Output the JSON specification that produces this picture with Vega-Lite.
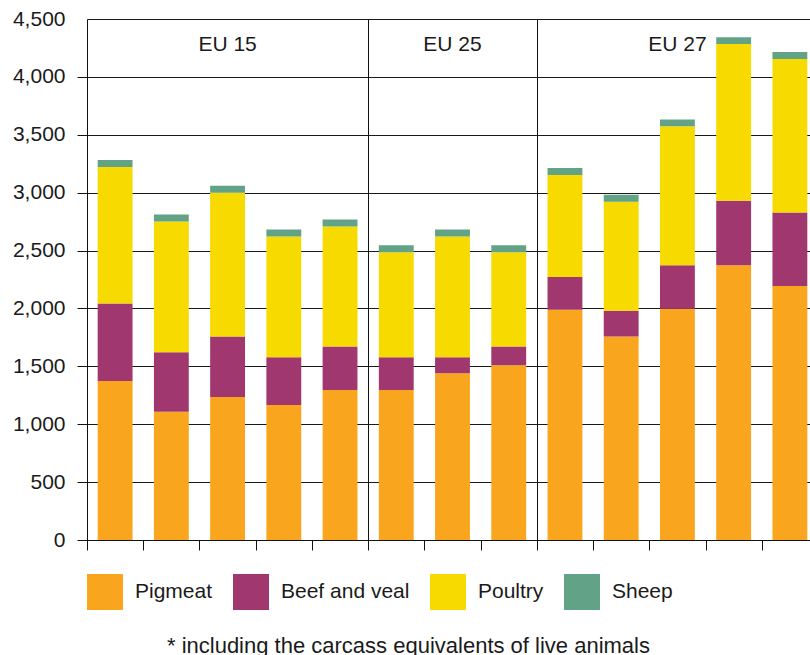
{
  "$schema": "https://vega.github.io/schema/vega-lite/v6.json",
  "autosize": {"type": "none"},
  "width": 723,
  "height": 521,
  "padding": {"left": 87, "top": 19, "right": 0, "bottom": 115},
  "config": {
    "font": "Liberation Sans",
    "view": {"stroke": null},
    "axis": {"labelFont": "Liberation Sans"},
    "legend": {"labelFont": "Liberation Sans"}
  },
  "title": {
    "text": "* including the carcass equivalents of live animals",
    "orient": "bottom",
    "anchor": "middle",
    "frame": "bounds",
    "fontSize": 22,
    "fontWeight": "normal",
    "color": "#1a1a1a",
    "offset": 26,
    "dx": -7
  },
  "datasets": {
    "meat": [
      {"bar": 1, "type": "Pigmeat", "k": 1, "value": 1373},
      {"bar": 1, "type": "Beef and veal", "k": 2, "value": 670},
      {"bar": 1, "type": "Poultry", "k": 3, "value": 1179},
      {"bar": 1, "type": "Sheep", "k": 4, "value": 60},
      {"bar": 2, "type": "Pigmeat", "k": 1, "value": 1107},
      {"bar": 2, "type": "Beef and veal", "k": 2, "value": 514},
      {"bar": 2, "type": "Poultry", "k": 3, "value": 1130},
      {"bar": 2, "type": "Sheep", "k": 4, "value": 60},
      {"bar": 3, "type": "Pigmeat", "k": 1, "value": 1236},
      {"bar": 3, "type": "Beef and veal", "k": 2, "value": 522},
      {"bar": 3, "type": "Poultry", "k": 3, "value": 1241},
      {"bar": 3, "type": "Sheep", "k": 4, "value": 60},
      {"bar": 4, "type": "Pigmeat", "k": 1, "value": 1167},
      {"bar": 4, "type": "Beef and veal", "k": 2, "value": 411},
      {"bar": 4, "type": "Poultry", "k": 3, "value": 1044},
      {"bar": 4, "type": "Sheep", "k": 4, "value": 60},
      {"bar": 5, "type": "Pigmeat", "k": 1, "value": 1296},
      {"bar": 5, "type": "Beef and veal", "k": 2, "value": 376},
      {"bar": 5, "type": "Poultry", "k": 3, "value": 1036},
      {"bar": 5, "type": "Sheep", "k": 4, "value": 60},
      {"bar": 6, "type": "Pigmeat", "k": 1, "value": 1296},
      {"bar": 6, "type": "Beef and veal", "k": 2, "value": 282},
      {"bar": 6, "type": "Poultry", "k": 3, "value": 907},
      {"bar": 6, "type": "Sheep", "k": 4, "value": 60},
      {"bar": 7, "type": "Pigmeat", "k": 1, "value": 1441},
      {"bar": 7, "type": "Beef and veal", "k": 2, "value": 137},
      {"bar": 7, "type": "Poultry", "k": 3, "value": 1044},
      {"bar": 7, "type": "Sheep", "k": 4, "value": 60},
      {"bar": 8, "type": "Pigmeat", "k": 1, "value": 1509},
      {"bar": 8, "type": "Beef and veal", "k": 2, "value": 163},
      {"bar": 8, "type": "Poultry", "k": 3, "value": 813},
      {"bar": 8, "type": "Sheep", "k": 4, "value": 60},
      {"bar": 9, "type": "Pigmeat", "k": 1, "value": 1989},
      {"bar": 9, "type": "Beef and veal", "k": 2, "value": 282},
      {"bar": 9, "type": "Poultry", "k": 3, "value": 882},
      {"bar": 9, "type": "Sheep", "k": 4, "value": 60},
      {"bar": 10, "type": "Pigmeat", "k": 1, "value": 1758},
      {"bar": 10, "type": "Beef and veal", "k": 2, "value": 222},
      {"bar": 10, "type": "Poultry", "k": 3, "value": 942},
      {"bar": 10, "type": "Sheep", "k": 4, "value": 60},
      {"bar": 11, "type": "Pigmeat", "k": 1, "value": 1998},
      {"bar": 11, "type": "Beef and veal", "k": 2, "value": 376},
      {"bar": 11, "type": "Poultry", "k": 3, "value": 1199},
      {"bar": 11, "type": "Sheep", "k": 4, "value": 60},
      {"bar": 12, "type": "Pigmeat", "k": 1, "value": 2374},
      {"bar": 12, "type": "Beef and veal", "k": 2, "value": 557},
      {"bar": 12, "type": "Poultry", "k": 3, "value": 1352},
      {"bar": 12, "type": "Sheep", "k": 4, "value": 60},
      {"bar": 13, "type": "Pigmeat", "k": 1, "value": 2194},
      {"bar": 13, "type": "Beef and veal", "k": 2, "value": 634},
      {"bar": 13, "type": "Poultry", "k": 3, "value": 1326},
      {"bar": 13, "type": "Sheep", "k": 4, "value": 60}
    ],
    "groups": [
      {"bar": 3, "label": "EU 15"},
      {"bar": 7, "label": "EU 25"},
      {"bar": 11, "label": "EU 27"}
    ]
  },
  "layer": [
    {
      "data": {"name": "meat"},
      "mark": {"type": "bar", "width": {"band": 0.62}},
      "encoding": {
        "x": {
          "field": "bar",
          "type": "ordinal",
          "scale": {"range": [0, 731], "paddingInner": 0, "paddingOuter": 0},
          "axis": {
            "title": null,
            "labels": false,
            "tickBand": "extent",
            "tickSize": 10,
            "tickColor": "#111",
            "domainColor": "#111",
            "grid": true,
            "gridColor": {"condition": {"test": "datum.value == 5 || datum.value == 8", "value": "#111"}, "value": "transparent"},
            "gridWidth": 1
          }
        },
        "y": {
          "field": "value",
          "type": "quantitative",
          "stack": "zero",
          "scale": {"domain": [0, 4500], "nice": false},
          "axis": {
            "title": null,
            "values": [0, 500, 1000, 1500, 2000, 2500, 3000, 3500, 4000, 4500],
            "format": ",.0f",
            "labelFontSize": 21,
            "labelColor": "#1a1a1a",
            "labelPadding": 12,
            "tickSize": 10,
            "tickColor": {"condition": {"test": "datum.value == 4500", "value": "transparent"}, "value": "#111"},
            "domainColor": "#111",
            "gridColor": "#1a1a1a",
            "gridWidth": 1
          }
        },
        "color": {
          "field": "type",
          "type": "nominal",
          "scale": {
            "domain": ["Pigmeat", "Beef and veal", "Poultry", "Sheep"],
            "range": ["#F9A61E", "#A0386F", "#F6DA00", "#62A286"]
          },
          "legend": {
            "title": null,
            "orient": "bottom",
            "direction": "horizontal",
            "offset": 23,
            "padding": 0,
            "symbolType": "square",
            "symbolSize": 1296,
            "symbolStrokeWidth": 0,
            "symbolOpacity": 1,
            "labelFontSize": 21,
            "labelColor": "#1a1a1a",
            "labelOffset": 12,
            "columnPadding": 20
          }
        },
        "order": {"field": "k", "type": "quantitative"}
      }
    },
    {
      "data": {"name": "groups"},
      "mark": {"type": "text", "fontSize": 21, "color": "#1a1a1a", "baseline": "middle", "align": "center"},
      "encoding": {
        "x": {"field": "bar", "type": "ordinal"},
        "y": {"datum": 4275},
        "text": {"field": "label"}
      }
    }
  ]
}
